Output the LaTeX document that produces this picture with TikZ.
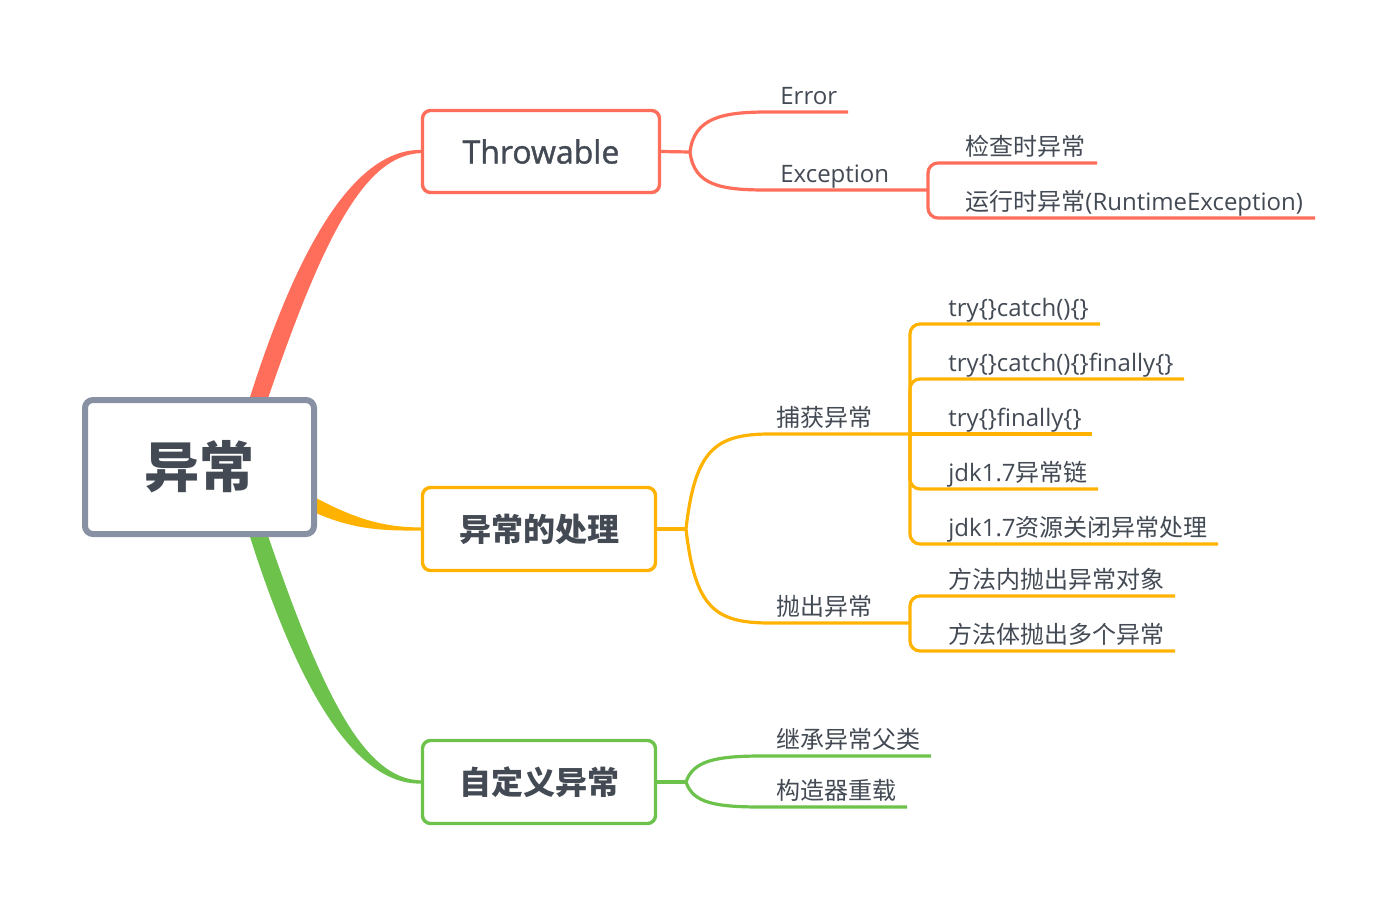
\documentclass[tikz,border=0pt]{standalone}
\usepackage{fontspec}
\setmainfont{Open Sans}
\newfontfamily\cjk{Noto Sans CJK SC}
\newfontfamily\semib[FakeBold=1.2]{Open Sans}
\usetikzlibrary{calc}
\definecolor{cred}{HTML}{FF6E5A}
\definecolor{cyel}{HTML}{FFB300}
\definecolor{cgrn}{HTML}{6CC24A}
\definecolor{cgray}{HTML}{8791A3}
\definecolor{ctxt}{HTML}{434A54}
\pgfdeclarelayer{bg}
\pgfsetlayers{bg,main}
\begin{document}
\begin{tikzpicture}[x=0.5pt,y=-0.5pt,
  box/.style={draw, line width=1.7pt, rounded corners=4pt, fill=white, text=ctxt, inner sep=0,
    font=\fontsize{16}{19}\selectfont},
  lbl/.style={anchor=base west, inner sep=0, text=ctxt, font=\fontsize{12}{14}\selectfont},
  sub/.style={line width=1.6pt},
  brk/.style={line width=1.6pt, rounded corners=5pt},
  ]
\useasboundingbox (0,0) rectangle (1394,906);

% boxes
\node[box, draw=cgray, line width=3pt, minimum width=114.5pt, minimum height=67pt,
      font=\fontsize{27.5}{30}\selectfont] (root) at (199.5,467) {\cjk\bfseries 异常};
\node[box, draw=cred, minimum width=118.5pt, minimum height=41pt] (thr) at (541,151.5) {\semib Throwable};
\node[box, draw=cyel, minimum width=116.5pt, minimum height=41.5pt] (hand) at (539,529) {\cjk\bfseries 异常的处理};
\node[box, draw=cgrn, minimum width=116.5pt, minimum height=41.5pt] (cust) at (539,782) {\cjk\bfseries 自定义异常};

\begin{pgfonlayer}{bg}
\fill[white] (0,0) rectangle (1394,906);
% tapered main branches
\fill[cred] ($(root.center)+(46.5,-57)$) .. controls (299,238) and (357,149.5) .. ($(thr.west)+(0,-1.6)$)
  -- ($(thr.west)+(0,1.6)$) .. controls (363,155) and (321,242) .. ($(root.center)+(64.5,-57)$) -- cycle;
\fill[cgrn] ($(root.center)+(46.5,57)$) .. controls (299,696) and (357,784.5) .. ($(cust.west)+(0,1.6)$)
  -- ($(cust.west)+(0,-1.6)$) .. controls (363,779) and (321,692) .. ($(root.center)+(64.5,57)$) -- cycle;
\fill[cyel] ($(root.center)+(105.5,25)$) .. controls (350,517) and (380,527.4) .. ($(hand.west)+(0,-1.6)$)
  -- ($(hand.west)+(0,1.6)$) .. controls (380,530.6) and (350,530) .. ($(root.center)+(105.5,41)$) -- cycle;
\end{pgfonlayer}

% Throwable branch
\coordinate (tf) at (690,152);
\draw[sub,cred] (thr.east) -- (tf);
\draw[sub,cred] (tf) .. controls (694,118) and (722,112) .. (767,112) -- (848,112);
\draw[sub,cred] (tf) .. controls (694,186) and (722,190) .. (767,190) -- (928,190) coordinate (ej);
\draw[brk,cred] (ej) |- (1097,163);
\draw[brk,cred] (ej) |- (1315,218);
\node[lbl] (err) at (780,104) {Error};
\node[lbl] (exc) at (780,182) {Exception};
\node[lbl] (chk) at (965,155) {\cjk 检查时异常};
\node[lbl] (rte) at (965,210) {{\cjk 运行时异常}(RuntimeException)};

% handling branch
\coordinate (hf) at (686,529);
\draw[sub,cyel] (hand.east) -- (hf);
\draw[sub,cyel] (hf) .. controls (695,450) and (715,434) .. (770,434) -- (910,434) coordinate (cj);
\draw[sub,cyel] (hf) .. controls (695,608) and (715,623) .. (770,623) -- (910,623) coordinate (pj);
\draw[brk,cyel] (cj) |- (1100,324);
\draw[brk,cyel] (cj) |- (1184,379);
\draw[sub,cyel] (cj) -- (1092,434);
\draw[brk,cyel] (cj) |- (1098,489);
\draw[brk,cyel] (cj) |- (1218,544);
\draw[brk,cyel] (pj) |- (1175,596);
\draw[brk,cyel] (pj) |- (1175,651);
\node[lbl] (catch) at (776,426) {\cjk 捕获异常};
\node[lbl] (throw) at (776,615) {\cjk 抛出异常};
\node[lbl] (t1) at (948,316) {try\{\}catch()\{\}};
\node[lbl] (t2) at (948,371) {try\{\}catch()\{\}finally\{\}};
\node[lbl] (t3) at (948,426) {try\{\}finally\{\}};
\node[lbl] (t4) at (948,481) {jdk1.7{\cjk 异常链}};
\node[lbl] (t5) at (948,536) {jdk1.7{\cjk 资源关闭异常处理}};
\node[lbl] (p1) at (948,588) {\cjk 方法内抛出异常对象};
\node[lbl] (p2) at (948,643) {\cjk 方法体抛出多个异常};

% custom branch
\coordinate (gf) at (686,782);
\draw[sub,cgrn] (cust.east) -- (gf);
\draw[sub,cgrn] (gf) .. controls (693,761) and (715,756) .. (762,756) -- (931,756);
\draw[sub,cgrn] (gf) .. controls (693,803) and (715,807) .. (762,807) -- (907,807);
\node[lbl] (inh) at (776,748) {\cjk 继承异常父类};
\node[lbl] (ctor) at (776,799) {\cjk 构造器重载};
\end{tikzpicture}
\end{document}
